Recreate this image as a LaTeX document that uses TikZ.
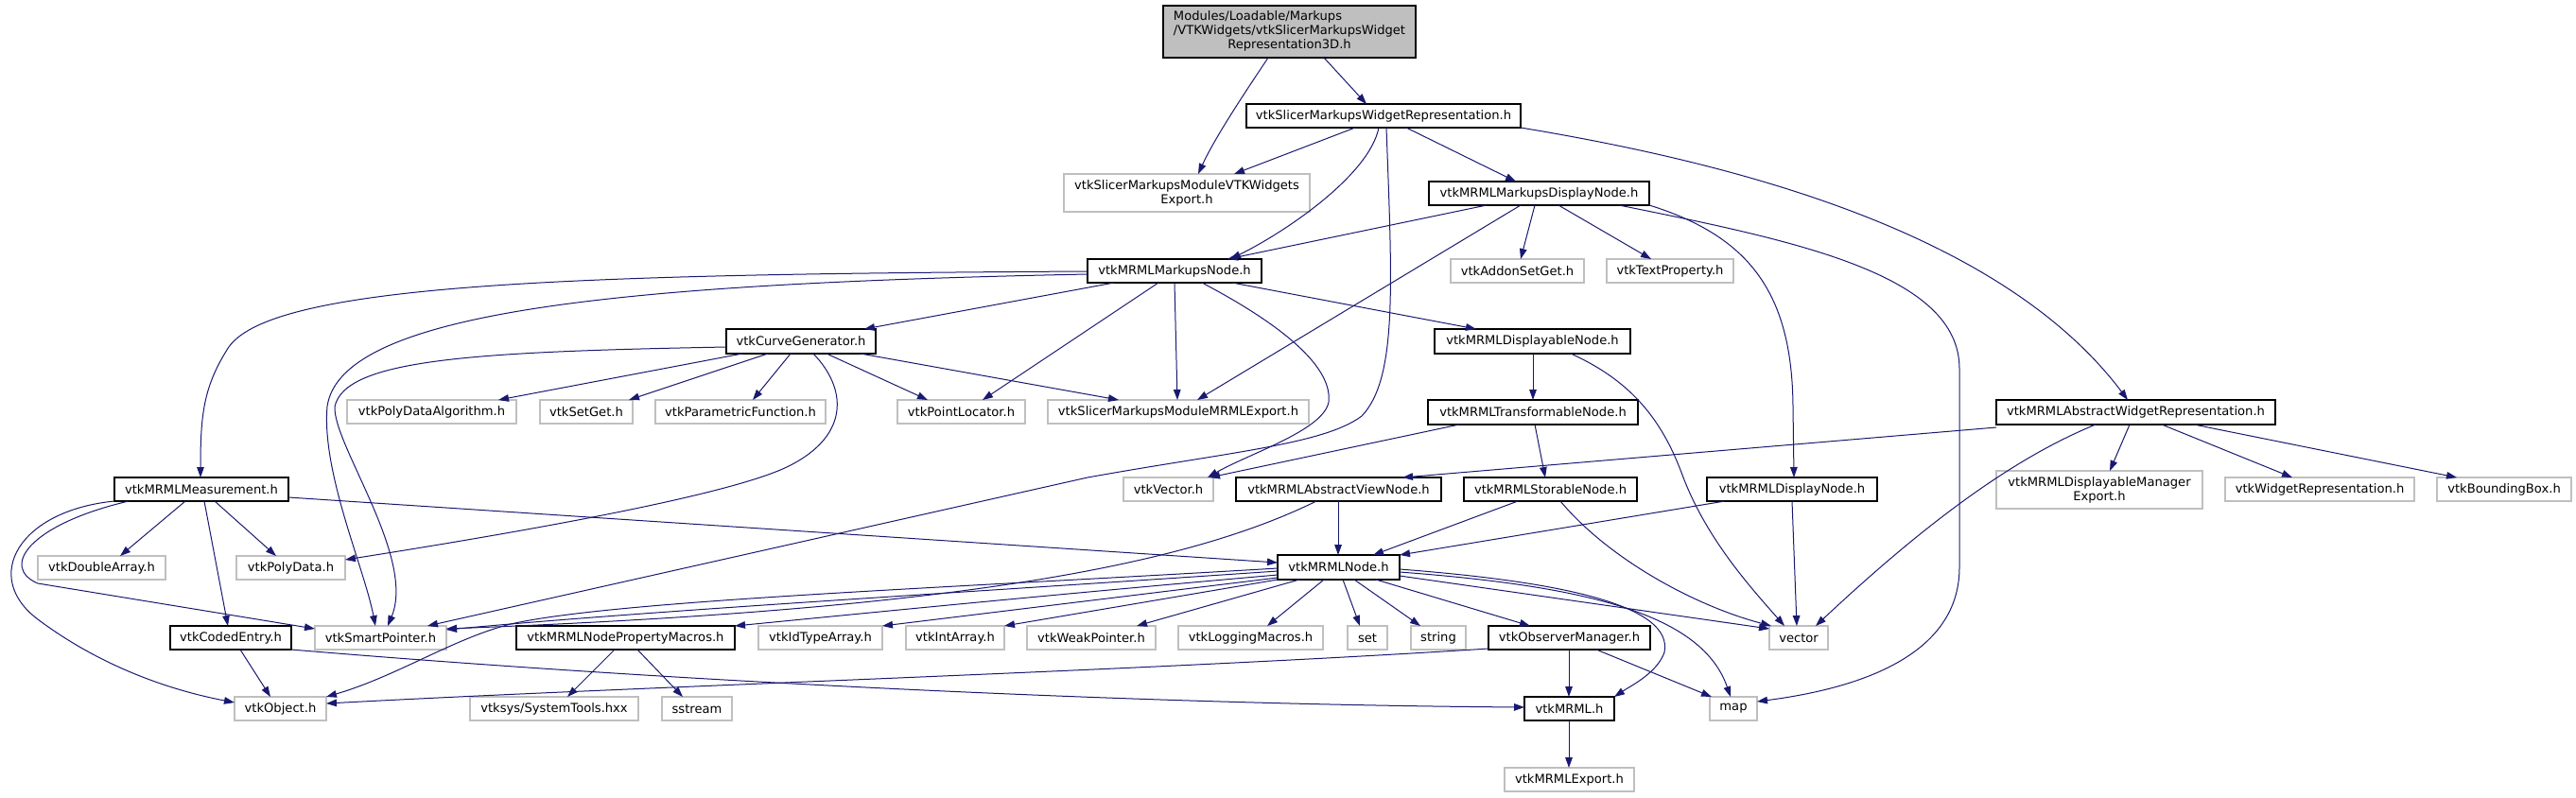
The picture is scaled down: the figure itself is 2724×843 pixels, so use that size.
\documentclass[tikz,border=0pt]{standalone}
\usepackage{fontspec}
\setmainfont{DejaVu Sans}
\usetikzlibrary{arrows.meta}
\definecolor{edgec}{HTML}{191970}
\definecolor{grayb}{HTML}{BFBFBF}
\newcommand\dxfont{\fontsize{6.55pt}{7.4pt}\selectfont}
\newcommand\bx[7]{\node[#1, minimum width={(#5-#3)*0.5pt}, minimum height={(#6-#4)*0.5pt}] (#2) at ({(#3+#5)/2},{(#4+#6)/2}) {#7};}
\begin{document}
\begin{tikzpicture}[x=0.5pt,y=-0.5pt,
  base/.style={rectangle, inner sep=0pt, outer sep=0pt, line width=0.55pt, font=\dxfont, text=black, align=center},
  lk/.style={base, draw=black, fill=white},
  gy/.style={base, draw=grayb, fill=white},
  rt/.style={base, draw=black, fill=grayb},
  edg/.style={draw=edgec, line width=0.5pt, -{Triangle[length=5.5pt,width=3.8pt]}}]
\useasboundingbox (0,0) rectangle (2724,843);
% nodes
\bx{rt}{root}{1230}{6}{1497}{61}{\begin{tabular}{@{}l@{}}Modules/Loadable/Markups\\/VTKWidgets/vtkSlicerMarkupsWidget\\\multicolumn{1}{@{}c@{}}{Representation3D.h}\end{tabular}}
\bx{lk}{wrep}{1318}{110}{1608}{135}{vtkSlicerMarkupsWidgetRepresentation.h}
\bx{gy}{vtkexp}{1125}{184}{1385}{224}{vtkSlicerMarkupsModuleVTKWidgets\\Export.h}
\bx{lk}{mdisp}{1511}{192}{1744}{217}{vtkMRMLMarkupsDisplayNode.h}
\bx{lk}{mnode}{1150}{274}{1334}{299}{vtkMRMLMarkupsNode.h}
\bx{gy}{addon}{1534}{274}{1675}{299}{vtkAddonSetGet.h}
\bx{gy}{textp}{1699}{274}{1833}{299}{vtkTextProperty.h}
\bx{lk}{curve}{768}{348}{926}{374}{vtkCurveGenerator.h}
\bx{lk}{dispable}{1517}{348}{1724}{374}{vtkMRMLDisplayableNode.h}
\bx{gy}{pda}{367}{423}{546}{448}{vtkPolyDataAlgorithm.h}
\bx{gy}{setget}{571}{423}{669}{448}{vtkSetGet.h}
\bx{gy}{parf}{693}{423}{873}{448}{vtkParametricFunction.h}
\bx{gy}{ploc}{949}{423}{1084}{448}{vtkPointLocator.h}
\bx{gy}{mrmlexp}{1108}{423}{1384}{448}{vtkSlicerMarkupsModuleMRMLExport.h}
\bx{lk}{transf}{1510}{423}{1732}{449}{vtkMRMLTransformableNode.h}
\bx{lk}{awr}{2111}{423}{2406}{449}{vtkMRMLAbstractWidgetRepresentation.h}
\bx{lk}{meas}{121}{505}{305}{530}{vtkMRMLMeasurement.h}
\bx{gy}{vvec}{1188}{505}{1283}{530}{vtkVector.h}
\bx{lk}{aview}{1307}{505}{1524}{530}{vtkMRMLAbstractViewNode.h}
\bx{lk}{stor}{1548}{505}{1731}{530}{vtkMRMLStorableNode.h}
\bx{lk}{dnode}{1805}{505}{1985}{530}{vtkMRMLDisplayNode.h}
\bx{gy}{dmexp}{2111}{498}{2329}{538}{vtkMRMLDisplayableManager\\Export.h}
\bx{gy}{wrepr}{2353}{505}{2553}{530}{vtkWidgetRepresentation.h}
\bx{gy}{bbox}{2577}{505}{2719}{530}{vtkBoundingBox.h}
\bx{gy}{darr}{40}{588}{175}{613}{vtkDoubleArray.h}
\bx{gy}{pdata}{250}{588}{365}{613}{vtkPolyData.h}
\bx{lk}{mrmlnode}{1351}{587}{1480}{613}{vtkMRMLNode.h}
\bx{lk}{coded}{180}{662}{308}{687}{vtkCodedEntry.h}
\bx{gy}{sptr}{333}{662}{472}{687}{vtkSmartPointer.h}
\bx{lk}{npm}{546}{662}{777}{687}{vtkMRMLNodePropertyMacros.h}
\bx{gy}{idt}{802}{662}{933}{687}{vtkIdTypeArray.h}
\bx{gy}{inta}{958}{662}{1062}{687}{vtkIntArray.h}
\bx{gy}{weak}{1086}{662}{1222}{687}{vtkWeakPointer.h}
\bx{gy}{logm}{1246}{662}{1399}{687}{vtkLoggingMacros.h}
\bx{gy}{set}{1425}{662}{1467}{687}{set}
\bx{gy}{string}{1492}{662}{1550}{687}{string}
\bx{lk}{obs}{1574}{662}{1745}{687}{vtkObserverManager.h}
\bx{gy}{vector}{1871}{662}{1933}{687}{vector}
\bx{gy}{vobj}{248}{737}{345}{762}{vtkObject.h}
\bx{gy}{systools}{497}{737}{675}{762}{vtksys/SystemTools.hxx}
\bx{gy}{sstream}{700}{737}{774}{762}{sstream}
\bx{lk}{vmrml}{1612}{737}{1707}{762}{vtkMRML.h}
\bx{gy}{map}{1808}{737}{1858}{762}{map}
\bx{gy}{mexp}{1591}{812}{1728}{837}{vtkMRMLExport.h}
% edges from root
\draw[edg] (root.south -| 1341,0) .. controls (1315,100) and (1285,145) .. (vtkexp.north -| 1267,0);
\draw[edg] (root.south -| 1400,0) -- (wrep.north -| 1445,0);
% edges from wrep
\draw[edg] (wrep.south -| 1433,0) -- (vtkexp.north -| 1305,0);
\draw[edg] (wrep.south -| 1458,0) .. controls (1448,185) and (1360,245) .. (mnode.north -| 1301,0);
\draw[edg] (wrep.south -| 1466,0) .. controls (1472,300) and (1478,400) .. (1440,440) .. controls (1400,470) and (1300,478) .. (1150,505) -- (sptr.north -| 452,0);
\draw[edg] (wrep.south -| 1487,0) -- (mdisp.north -| 1603,0);
\draw[edg] (wrep.south east) .. controls (1850,175) and (2120,250) .. (awr.north -| 2250,0);
% edges from mdisp
\draw[edg] (mdisp.south -| 1572,0) -- (mnode.north -| 1298,0);
\draw[edg] (mdisp.south -| 1608,0) -- (mrmlexp.north -| 1266,0);
\draw[edg] (mdisp.south -| 1623,0) -- (addon.north -| 1608,0);
\draw[edg] (mdisp.south -| 1648,0) -- (textp.north -| 1746,0);
\draw[edg] (mdisp.south east) .. controls (1850,250) and (1895,310) .. (1896,430) -- (dnode.north -| 1897,0);
\draw[edg] (mdisp.south -| 1712,0) .. controls (1900,255) and (2072,290) .. (2072,390) -- (2072,600) .. controls (2072,700) and (1950,730) .. (map.east |- 0,742);
% edges from mnode
\draw[edg] (mnode.west |- 0,287) .. controls (600,290) and (280,300) .. (240,370) .. controls (215,410) and (212,440) .. (meas.north -| 212,0);
\draw[edg] (mnode.west |- 0,290) .. controls (650,300) and (360,330) .. (346,430) .. controls (340,500) and (385,600) .. (sptr.north -| 397,0);
\draw[edg] (mnode.south -| 1178,0) -- (curve.north -| 914,0);
\draw[edg] (mnode.south -| 1225,0) -- (ploc.north -| 1039,0);
\draw[edg] (mnode.south -| 1242,0) -- (mrmlexp.north -| 1245,0);
\draw[edg] (mnode.south -| 1271,0) .. controls (1330,330) and (1410,380) .. (1405,425) .. controls (1400,455) and (1320,480) .. (vvec.north -| 1277,0);
\draw[edg] (mnode.south -| 1303,0) -- (dispable.north -| 1561,0);
% edges from curve
\draw[edg] (curve.west |- 0,367) .. controls (500,372) and (365,380) .. (354,430) .. controls (352,470) and (440,590) .. (sptr.north -| 410,0);
\draw[edg] (curve.south -| 785,0) -- (pda.north -| 527,0);
\draw[edg] (curve.south -| 812,0) -- (setget.north -| 665,0);
\draw[edg] (curve.south -| 836,0) -- (parf.north -| 796,0);
\draw[edg] (curve.south -| 874,0) -- (ploc.north -| 981,0);
\draw[edg] (curve.south -| 910,0) -- (mrmlexp.north -| 1183,0);
\draw[edg] (curve.south -| 860,0) .. controls (895,410) and (900,460) .. (834,493) .. controls (780,520) and (600,555) .. (pdata.east |- 0,592);
% displayable, transformable
\draw[edg] (dispable.south -| 1621,0) -- (transf.north -| 1621,0);
\draw[edg] (dispable.south -| 1661,0) .. controls (1730,405) and (1760,450) .. (1780,505) .. controls (1805,570) and (1850,620) .. (vector.north -| 1887,0);
\draw[edg] (transf.south -| 1623,0) -- (stor.north -| 1634,0);
\draw[edg] (transf.south -| 1543,0) -- (vvec.north -| 1279,0);
% abstract widget representation
\draw[edg] (awr.west |- 0,452) -- (aview.north -| 1483,0);
\draw[edg] (awr.south -| 2216,0) .. controls (2140,480) and (2050,540) .. (vector.north -| 1920,0);
\draw[edg] (awr.south -| 2252,0) -- (dmexp.north -| 2231,0);
\draw[edg] (awr.south -| 2286,0) -- (wrepr.north -| 2424,0);
\draw[edg] (awr.south -| 2320,0) -- (bbox.north -| 2598,0);
% rank 6
\draw[edg] (aview.south -| 1415,0) -- (mrmlnode.north -| 1415,0);
\draw[edg] (aview.south -| 1392,0) .. controls (1250,600) and (1000,645) .. (sptr.east |- 0,665);
\draw[edg] (stor.south -| 1605,0) -- (mrmlnode.north -| 1452,0);
\draw[edg] (stor.south -| 1650,0) .. controls (1700,590) and (1790,640) .. (vector.north -| 1873,0);
\draw[edg] (dnode.south -| 1824,0) -- (mrmlnode.north east);
\draw[edg] (dnode.south -| 1895,0) -- (vector.north -| 1900,0);
% measurement
\draw[edg] (meas.east |- 0,526) -- (mrmlnode.west |- 0,595);
\draw[edg] (meas.south -| 196,0) -- (darr.north -| 127,0);
\draw[edg] (meas.south -| 227,0) -- (pdata.north -| 292,0);
\draw[edg] (meas.south -| 216,0) -- (coded.north -| 241,0);
\draw[edg] (meas.south -| 136,0) .. controls (30,555) and (0,600) .. (40,617) -- (sptr.west |- 0,665);
\draw[edg] (meas.south west) .. controls (20,540) and (-20,610) .. (40,655) .. controls (100,700) and (170,728) .. (vobj.west |- 0,743);
% coded entry, macros
\draw[edg] (coded.south -| 254,0) -- (vobj.north -| 286,0);
\draw[edg] (coded.south east) .. controls (700,720) and (1200,745) .. (vmrml.west |- 0,748);
\draw[edg] (npm.south -| 650,0) -- (systools.north -| 600,0);
\draw[edg] (npm.south -| 674,0) -- (sstream.north -| 722,0);
% vtkMRMLNode
\draw[edg] (mrmlnode.west |- 0,604) .. controls (1000,628) and (700,645) .. (sptr.east |- 0,666);
\draw[edg] (mrmlnode.west |- 0,608) .. controls (1100,630) and (900,650) .. (npm.north east);
\draw[edg] (mrmlnode.west |- 0,611) -- (idt.north east);
\draw[edg] (mrmlnode.south west) -- (inta.north east);
\draw[edg] (mrmlnode.south -| 1374,0) -- (weak.north -| 1202,0);
\draw[edg] (mrmlnode.south -| 1400,0) -- (logm.north -| 1340,0);
\draw[edg] (mrmlnode.south -| 1420,0) -- (set.north -| 1438,0);
\draw[edg] (mrmlnode.south -| 1432,0) -- (string.north -| 1502,0);
\draw[edg] (mrmlnode.south -| 1455,0) -- (obs.north -| 1618,0);
\draw[edg] (mrmlnode.east |- 0,609) -- (vector.west |- 0,665);
\draw[edg] (mrmlnode.east |- 0,602) .. controls (1650,615) and (1770,640) .. (1760,690) .. controls (1752,712) and (1725,725) .. (vmrml.north east);
\draw[edg] (mrmlnode.east |- 0,605) .. controls (1680,620) and (1800,650) .. (map.north -| 1830,0);
\draw[edg] (mrmlnode.west |- 0,601) .. controls (1000,622) and (650,635) .. (540,660) .. controls (480,675) and (420,715) .. (vobj.north east);
% observer manager, vtkMRML
\draw[edg] (obs.west |- 0,686) .. controls (1200,710) and (700,725) .. (vobj.east |- 0,744);
\draw[edg] (obs.south -| 1659,0) -- (vmrml.north -| 1659,0);
\draw[edg] (obs.south -| 1688,0) -- (map.north -| 1810,0);
\draw[edg] (vmrml.south -| 1659,0) -- (mexp.north -| 1659,0);
\end{tikzpicture}
\end{document}
